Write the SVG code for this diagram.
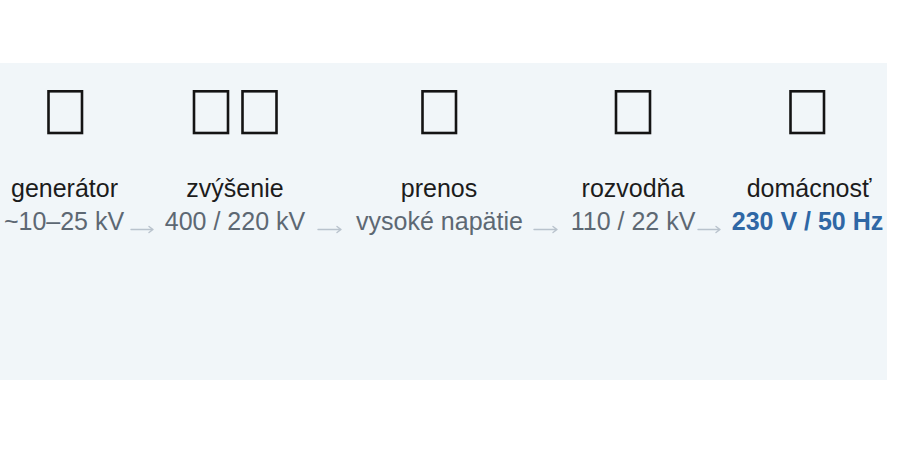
<svg xmlns="http://www.w3.org/2000/svg" width="899" height="450" viewBox="0 0 899 450">
<style>
.tofu{fill:none;stroke:#141414;stroke-width:2.6}
.t{font-family:"Liberation Sans",Arial,sans-serif;font-size:25px;fill:#1c1c1c;text-anchor:middle}
.v{font-family:"Liberation Sans",Arial,sans-serif;font-size:25px;fill:#5d6873;text-anchor:middle}
.vb{font-family:"Liberation Sans",Arial,sans-serif;font-size:25px;font-weight:bold;fill:#2f67a5;text-anchor:middle}
.arr{fill:none;stroke:#b9c3cd;stroke-width:1.4;stroke-linecap:round;stroke-linejoin:round}
</style>
<rect x="0" y="0" width="899" height="450" fill="#ffffff"/>
<rect x="0" y="63" width="887" height="317" fill="#f1f6f9"/>
<g id="generator">
<rect class="tofu" x="48.5" y="91.3" width="33.5" height="41.7"/>
<text class="t" x="64.5" y="197">generátor</text>
<text class="v" x="64" y="230">~10–25 kV</text>
</g>
<g id="zvysenie">
<rect class="tofu" x="194" y="91.3" width="34" height="41.7"/>
<rect class="tofu" x="242.5" y="91.3" width="34" height="41.7"/>
<text class="t" x="235" y="197">zvýšenie</text>
<text class="v" x="235" y="230">400 / 220 kV</text>
</g>
<g id="prenos">
<rect class="tofu" x="422.5" y="91.3" width="33.5" height="41.7"/>
<text class="t" x="439" y="197">prenos</text>
<text class="v" x="439.5" y="230">vysoké napätie</text>
</g>
<g id="rozvodna">
<rect class="tofu" x="616" y="91.3" width="34" height="41.7"/>
<text class="t" x="633" y="197">rozvodňa</text>
<text class="v" x="633" y="230">110 / 22 kV</text>
</g>
<g id="domacnost">
<rect class="tofu" x="790.5" y="91.3" width="33.5" height="41.7"/>
<text class="t" x="809" y="197">domácnosť</text>
<text class="vb" x="807.5" y="230">230 V / 50 Hz</text>
</g>
<g id="connectors">
<path class="arr" d="M131 229.5H153M149 226.5L153 229.5L149 232.5"/>
<path class="arr" d="M318 229.5H341M337 226.5L341 229.5L337 232.5"/>
<path class="arr" d="M534 229.5H557M553 226.5L557 229.5L553 232.5"/>
<path class="arr" d="M698 229.5H720M716 226.5L720 229.5L716 232.5"/>
</g>
</svg>
